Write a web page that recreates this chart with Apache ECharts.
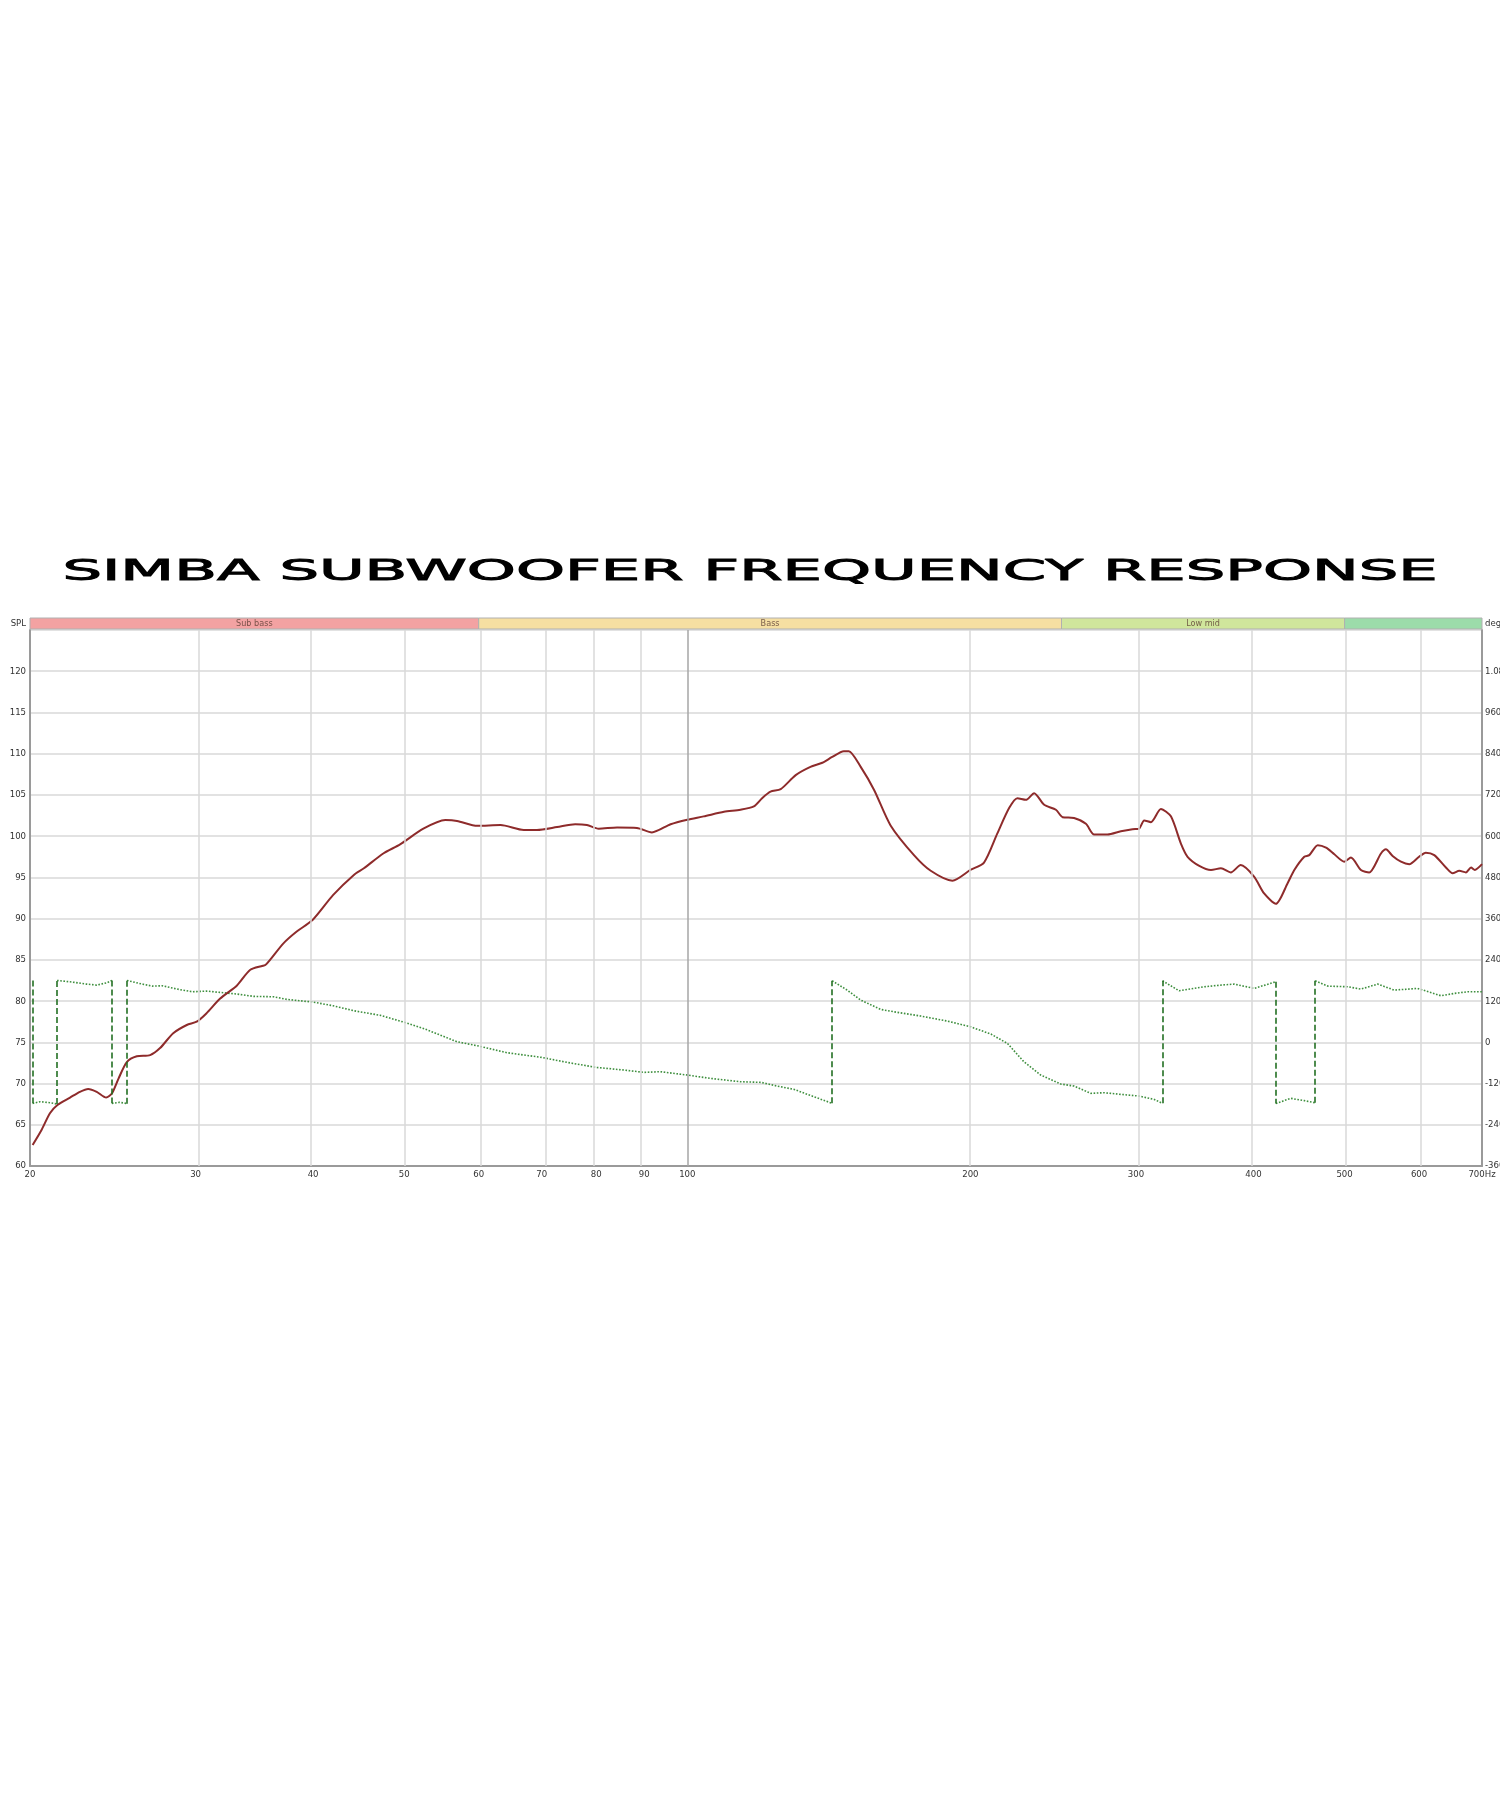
<!DOCTYPE html>
<html>
<head>
<meta charset="utf-8">
<title>Simba subwoofer frequency response</title>
<script src="https://cdn.jsdelivr.net/npm/echarts@6/dist/echarts.min.js"></script>
<style>
  html, body { margin: 0; padding: 0; background: #fff; }
  #chart { width: 1500px; height: 1800px; }
</style>
</head>
<body>
<div id="chart"></div>
<script>
// SPL curve (Hz, dB)
const splFreq = [20.13, 20.58, 21.0, 21.39, 22.06, 22.6, 23.06, 23.55, 24.1, 24.44, 24.84, 25.35, 25.98, 26.84, 27.5, 28.4, 29.36, 30.08, 30.8, 31.86,
  33.2, 34.3, 35.6, 36.0, 37.2, 38.4, 40.0, 42.0, 44.2, 45.3, 47.5, 49.5, 52.4, 55.3, 56.9, 59.8, 63.3, 67.0, 69.2, 72.7,
  76.0, 78.2, 80.5, 84.2, 88.4, 91.7, 96.0, 100, 104.1, 109.4, 113.9, 117.7, 120.1, 122.6, 125.7, 130.4, 135.2, 139.2, 142.6, 146.7,
  148.5, 152.9, 158.0, 164.5, 174.2, 181.5, 191.4, 200, 206.8, 213.6, 219.9, 224.4, 229.1, 233.8, 239.6, 246.6, 250.7, 257.8, 265.4, 270.8,
  279.8, 289.1, 297.5, 302.2, 306.1, 311.2, 318.9, 326.8, 334.9, 340.4, 350.3, 360.5, 369.4, 378.4, 387.7, 400.6, 410.6, 422.6, 434.9, 442.1,
  453, 458.6, 468.2, 477.8, 487.6, 499.6, 507.8, 520.4, 531.1, 546.6, 553.3, 562.4, 574, 585.8, 600, 610, 622.8, 640.8, 651.4, 662.2,
  673, 681.4, 687.8, 700]
const splDb = [62.55, 64.4, 66.4, 67.4, 68.3, 69.0, 69.35, 69.0, 68.3, 68.8, 70.6, 72.6, 73.3, 73.45, 74.3, 76.1, 77.1, 77.5, 78.5, 80.3,
  81.9, 83.8, 84.4, 85.0, 87.0, 88.4, 89.9, 92.85, 95.3, 96.1, 97.9, 99.0, 100.9, 101.95, 101.85, 101.25, 101.35, 100.75, 100.75, 101.1,
  101.45, 101.35, 100.9, 101.05, 101.0, 100.45, 101.45, 102.0, 102.4, 102.95, 103.2, 103.6, 104.6, 105.4, 105.7, 107.4, 108.4, 108.9, 109.6, 110.3,
  110.3, 108.4, 105.6, 101.3, 97.7, 95.8, 94.6, 95.9, 96.8, 100.3, 103.4, 104.6, 104.4, 105.2, 103.8, 103.2, 102.3, 102.2, 101.5, 100.2,
  100.2, 100.6, 100.85, 100.9, 101.9, 101.7, 103.3, 102.4, 99.1, 97.5, 96.4, 95.9, 96.1, 95.6, 96.5, 95.1, 93.05, 91.8, 94.3, 95.9,
  97.5, 97.7, 98.9, 98.6, 97.8, 96.9, 97.4, 95.9, 95.6, 97.9, 98.4, 97.6, 96.9, 96.6, 97.5, 98.0, 97.7, 96.2, 95.5, 95.8,
  95.6, 96.2, 95.9, 96.6]

// phase curve (Hz, deg) - a repeated frequency marks a wrap
const phaseFreq = [20.13, 20.13, 20.16, 20.5, 21.0, 21.37, 21.37, 22.06, 22.97, 23.55, 24.14, 24.44, 24.44, 24.52, 24.9, 25.3, 25.36, 25.36,
  26.33, 26.98, 27.64, 28.8, 29.76, 30.8, 31.86, 33.2, 34.6, 36.3, 37.5, 40.0, 42.0, 44.2, 47.2, 49.9, 52.4, 54.6, 56.9, 60.0,
  64.3, 70.0, 74.5, 80.0, 85.6, 90.0, 93.6, 100, 105.8, 113.9, 119.8, 124.6, 129.9, 136.3, 142.6, 142.6, 147.9, 152.9, 160.6, 165.8,
  177.1, 189, 200, 210.3, 219, 228, 237.6, 249.6, 257.8, 268.6, 277.5, 289.1, 302.2, 313.6, 320.2, 320.2, 333.4, 354.6, 369.4, 381.6,
  400.6, 422.6, 422.6, 424.4, 438.4, 453, 465.3, 465.3, 479.8, 503.6, 520.4, 542.2, 564.6, 598, 633.2, 654, 676, 700]
const phaseDeg = [180, -177.7, -174.8, -172.9, -175.8, -179.6, 180, 176.2, 169.4, 166.5, 173.3, 180, -177.7, -177.7, -174.8, -177.7, -178.5, 180,
  169.4, 163.6, 164.6, 153.9, 147.1, 149.1, 145.2, 140.4, 133.6, 132.6, 124.9, 117.1, 106.4, 91.9, 78.3, 59, 40.5, 21.1, 1.7, -10.9,
  -30.3, -43.9, -58.4, -73, -80.7, -87.5, -85.5, -95.3, -105, -114.7, -116.6, -127.3, -137, -158.3, -177.7, 179.1, 152, 122.9, 95.7, 88.9,
  76.4, 61.8, 45.3, 24, -3.2, -56.5, -95.3, -121.5, -127.3, -148.6, -146.7, -151.5, -156.4, -166.1, -177.7, 179, 150, 161.7, 166.5, 169.4,
  156.8, 176.2, -178, -176, -163.1, -169.8, -176, 179, 163.6, 161.7, 154.9, 169.4, 152, 156.8, 135.5, 142.3, 147.1, 147]

const labelFreq = [20, 30, 40, 50, 60, 70, 80, 90, 100, 200, 300, 400, 500, 600, 700]
const gridFreq = [30, 40, 50, 60, 70, 80, 90, 100, 200, 300, 400, 500, 600]

const bandNames = ['Sub bass', 'Bass', 'Low mid', '']
const bandStart = [20, 60, 250, 500]
const bandEnd = [60, 250, 500, 700]
const bandColors = ['#f3a2a2', '#f6dfa2', '#d0e69c', '#9cdcaa']

const lg = f => Math.log10(f)
const X_MIN = lg(20)
const X_MAX = lg(700)
const labelFont = '"Liberation Sans Narrow", "DejaVu Sans Condensed", sans-serif'
const labelSize = 9.5

// split phase into dotted runs and dashed wrap jumps
const phaseLine = []
const wrapLines = []
phaseFreq.forEach((f, i) => {
  if (i > 0 && phaseFreq[i - 1] === f) {
    wrapLines.push([{ coord: [lg(f), phaseDeg[i - 1]] }, { coord: [lg(f), phaseDeg[i]] }])
    phaseLine.push([lg(f), '-'])
  }
  phaseLine.push([lg(f), phaseDeg[i]])
})

const chart = echarts.init(document.getElementById('chart'))
chart.setOption({
  animation: false,
  backgroundColor: '#ffffff',
  graphic: [
    {
      type: 'text', x: 750, y: 572, scaleX: 2.15,
      style: {
        text: 'SIMBA SUBWOOFER FREQUENCY RESPONSE',
        fontSize: 29, fontFamily: '"DejaVu Sans", sans-serif',
        fill: '#000', stroke: '#000', lineWidth: 0.9,
        align: 'center', verticalAlign: 'middle'
      }
    },
    {
      type: 'text', x: 26, y: 624,
      style: { text: 'SPL', fontSize: labelSize, fontFamily: labelFont, fill: '#333', align: 'right', verticalAlign: 'middle' }
    },
    {
      type: 'text', x: 1485, y: 624,
      style: { text: 'deg', fontSize: labelSize, fontFamily: labelFont, fill: '#333', align: 'left', verticalAlign: 'middle' }
    }
  ],
  grid: [
    { left: 30, right: 18, top: 630, bottom: 634, containLabel: false, outerBoundsMode: 'none' },
    { left: 30, right: 18, top: 618, height: 11, containLabel: false, outerBoundsMode: 'none' }
  ],
  xAxis: [
    {
      type: 'value', gridIndex: 0, min: X_MIN, max: X_MAX,
      axisLine: { show: true, onZero: false, lineStyle: { color: '#9a9a9a', width: 2 } },
      axisTick: { show: false },
      splitLine: { show: false },
      axisLabel: {
        customValues: labelFreq.map(lg),
        formatter: v => {
          const f = Math.round(Math.pow(10, v))
          return f === 700 ? '700Hz' : String(f)
        },
        fontSize: labelSize, fontFamily: labelFont, color: '#333', margin: 4,
        showMinLabel: true, showMaxLabel: true, hideOverlap: false
      }
    },
    { type: 'value', gridIndex: 1, min: X_MIN, max: X_MAX, show: false }
  ],
  yAxis: [
    {
      type: 'value', gridIndex: 0, min: 60, max: 125, interval: 5,
      axisLine: { show: true, onZero: false, lineStyle: { color: '#9a9a9a', width: 2 } },
      axisTick: { show: false },
      splitLine: { show: true, lineStyle: { color: '#d8d8d8', width: 1.5 } },
      axisLabel: {
        formatter: v => (v > 120 ? '' : String(v)),
        fontSize: labelSize, fontFamily: labelFont, color: '#333', margin: 4
      }
    },
    {
      type: 'value', gridIndex: 0, position: 'right', min: -360, max: 1200, interval: 120,
      axisLine: { show: true, onZero: false, lineStyle: { color: '#9a9a9a', width: 2 } },
      axisTick: { show: false },
      splitLine: { show: false },
      axisLabel: {
        formatter: v => (v > 1080 ? '' : v === 1080 ? '1.080' : String(v)),
        fontSize: labelSize, fontFamily: labelFont, color: '#333', margin: 3
      }
    },
    { type: 'value', gridIndex: 1, min: 0, max: 1, show: false }
  ],
  series: [
    {
      // frequency gridlines
      type: 'line', xAxisIndex: 0, yAxisIndex: 0, data: [], z: 1, silent: true,
      markLine: {
        silent: true, symbol: 'none', label: { show: false },
        data: gridFreq.map(f => ({
          xAxis: lg(f),
          lineStyle: { color: f === 100 ? '#a6a6a6' : '#d8d8d8', width: 1.5, type: 'solid' }
        }))
      }
    },
    {
      // band strip
      type: 'custom', xAxisIndex: 1, yAxisIndex: 2, silent: true,
      data: bandStart.map((s, i) => [lg(s), lg(bandEnd[i]), i]),
      renderItem: (params, api) => {
        const i = api.value(2)
        const p0 = api.coord([api.value(0), 1])
        const p1 = api.coord([api.value(1), 0])
        return {
          type: 'group',
          children: [
            {
              type: 'rect',
              shape: { x: p0[0], y: p0[1], width: p1[0] - p0[0], height: p1[1] - p0[1] },
              style: { fill: bandColors[i], stroke: '#b0b0b0', lineWidth: 1 }
            },
            {
              type: 'text',
              style: {
                text: bandNames[i], x: (p0[0] + p1[0]) / 2, y: (p0[1] + p1[1]) / 2 + 0.5,
                align: 'center', verticalAlign: 'middle',
                fontSize: 9, fontFamily: labelFont, fill: 'rgba(90,60,50,0.8)'
              }
            }
          ]
        }
      }
    },
    {
      name: 'Phase', type: 'line', xAxisIndex: 0, yAxisIndex: 1, z: 2,
      data: phaseLine, showSymbol: false, connectNulls: false,
      lineStyle: { color: '#3f8f3f', width: 1.6, type: [1.6, 1.6] },
      markLine: {
        silent: true, symbol: 'none', label: { show: false },
        lineStyle: { color: '#237023', width: 1.6, type: [6, 3] },
        data: wrapLines
      }
    },
    {
      name: 'SPL', type: 'line', xAxisIndex: 0, yAxisIndex: 0, z: 3,
      data: splFreq.map((f, i) => [lg(f), splDb[i]]),
      showSymbol: false, smooth: 0.25,
      lineStyle: { color: '#8e2b2b', width: 2 }
    }
  ]
})
</script>
</body>
</html>
